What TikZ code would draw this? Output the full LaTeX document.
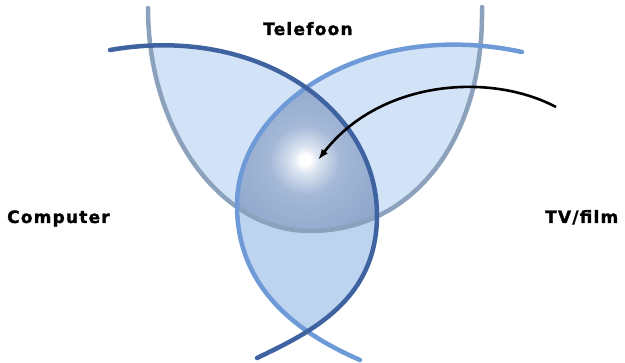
\documentclass[tikz,border=0pt]{standalone}
\usepackage{fontspec}
\usepackage{xcolor}
\usepackage{tikz}
\usetikzlibrary{arrows.meta}

\newfontfamily\lblfont[LetterSpace=7,FakeBold=1.4]{DejaVu Sans Bold}

\definecolor{arcgrey}{HTML}{8CA1BC}
\definecolor{arcdark}{HTML}{3F63A0}
\definecolor{arcmid}{HTML}{6E9AD8}
\definecolor{lenslight}{HTML}{D3E3F7}
\definecolor{lensbottom}{HTML}{BDD4F1}
\definecolor{hubA}{HTML}{DCE5F1}
\definecolor{hubB}{HTML}{A4B8D7}
\definecolor{hubC}{HTML}{8AA3C9}
\definecolor{hubD}{HTML}{728CB5}

\pgfdeclareradialshading{hubglow}{\pgfpoint{0bp}{0bp}}{%
  color(0bp)=(white); color(1.2bp)=(white); color(3bp)=(hubA);
  color(8bp)=(hubB); color(22bp)=(hubC); color(50bp)=(hubD)}

% the three arcs, in pixel units
\def\curveA{(148,8) .. controls (148,131) and (220.6,231) .. (310,231)
  .. controls (413,231) and (484,140) .. (482,7)}
\def\curveB{(110,50) .. controls (260,24) and (377,110) .. (377,215)
  .. controls (377,300) and (311,332.2) .. (257,358)}
\def\curveC{(522,52) .. controls (365.5,18.4) and (237,105) .. (237,205)
  .. controls (237,290) and (300.3,334.1) .. (360,360)}
\def\regA{\curveA -- (482,-20) -- (148,-20) -- cycle}
\def\regB{\curveB -- (0,380) -- (0,50) -- cycle}
\def\regC{\curveC -- (640,380) -- (640,52) -- cycle}

\begin{document}
\begin{tikzpicture}[
  x=1pt, y=-1pt,
  lbl/.style={font=\lblfont\fontsize{17}{19}\selectfont,
              anchor=base west, inner sep=0pt},
  band/.style={line width=4.5pt, line cap=round},
  arrow/.style={-{Latex[length=11pt,width=7.5pt]}, line width=2.6pt}
]
  \useasboundingbox (0,0) rectangle (625,363);

  % lenzen
  \begin{scope}
    \clip \regA;
    \fill[lenslight] \regB;
    \fill[lenslight] \regC;
  \end{scope}
  \begin{scope}
    \clip \regB;
    \fill[lensbottom] \regC;
  \end{scope}

  % kern
  \coordinate (glint) at (305,160);
  \begin{scope}
    \clip \regA;
    \clip \regB;
    \clip \regC;
    \shade[shading=hubglow] (glint) circle (110pt);
  \end{scope}

  % bogen
  \draw[band, arcgrey] \curveA;
  \draw[band, arcmid] \curveC;
  \draw[band, arcdark] \curveB;

  % pijl
  \coordinate (src) at (556,107);
  \coordinate (hub) at (318,160);
  \draw[arrow] (src) .. controls (490,72) and (380,80) .. (hub);

  % labels
  \node[lbl] (tel) at (263,35) {Telefoon};
  \node[lbl] (comp) at (7,223) {Computer};
  \node[lbl] (tv) at (545,223) {TV/film};
\end{tikzpicture}
\end{document}
